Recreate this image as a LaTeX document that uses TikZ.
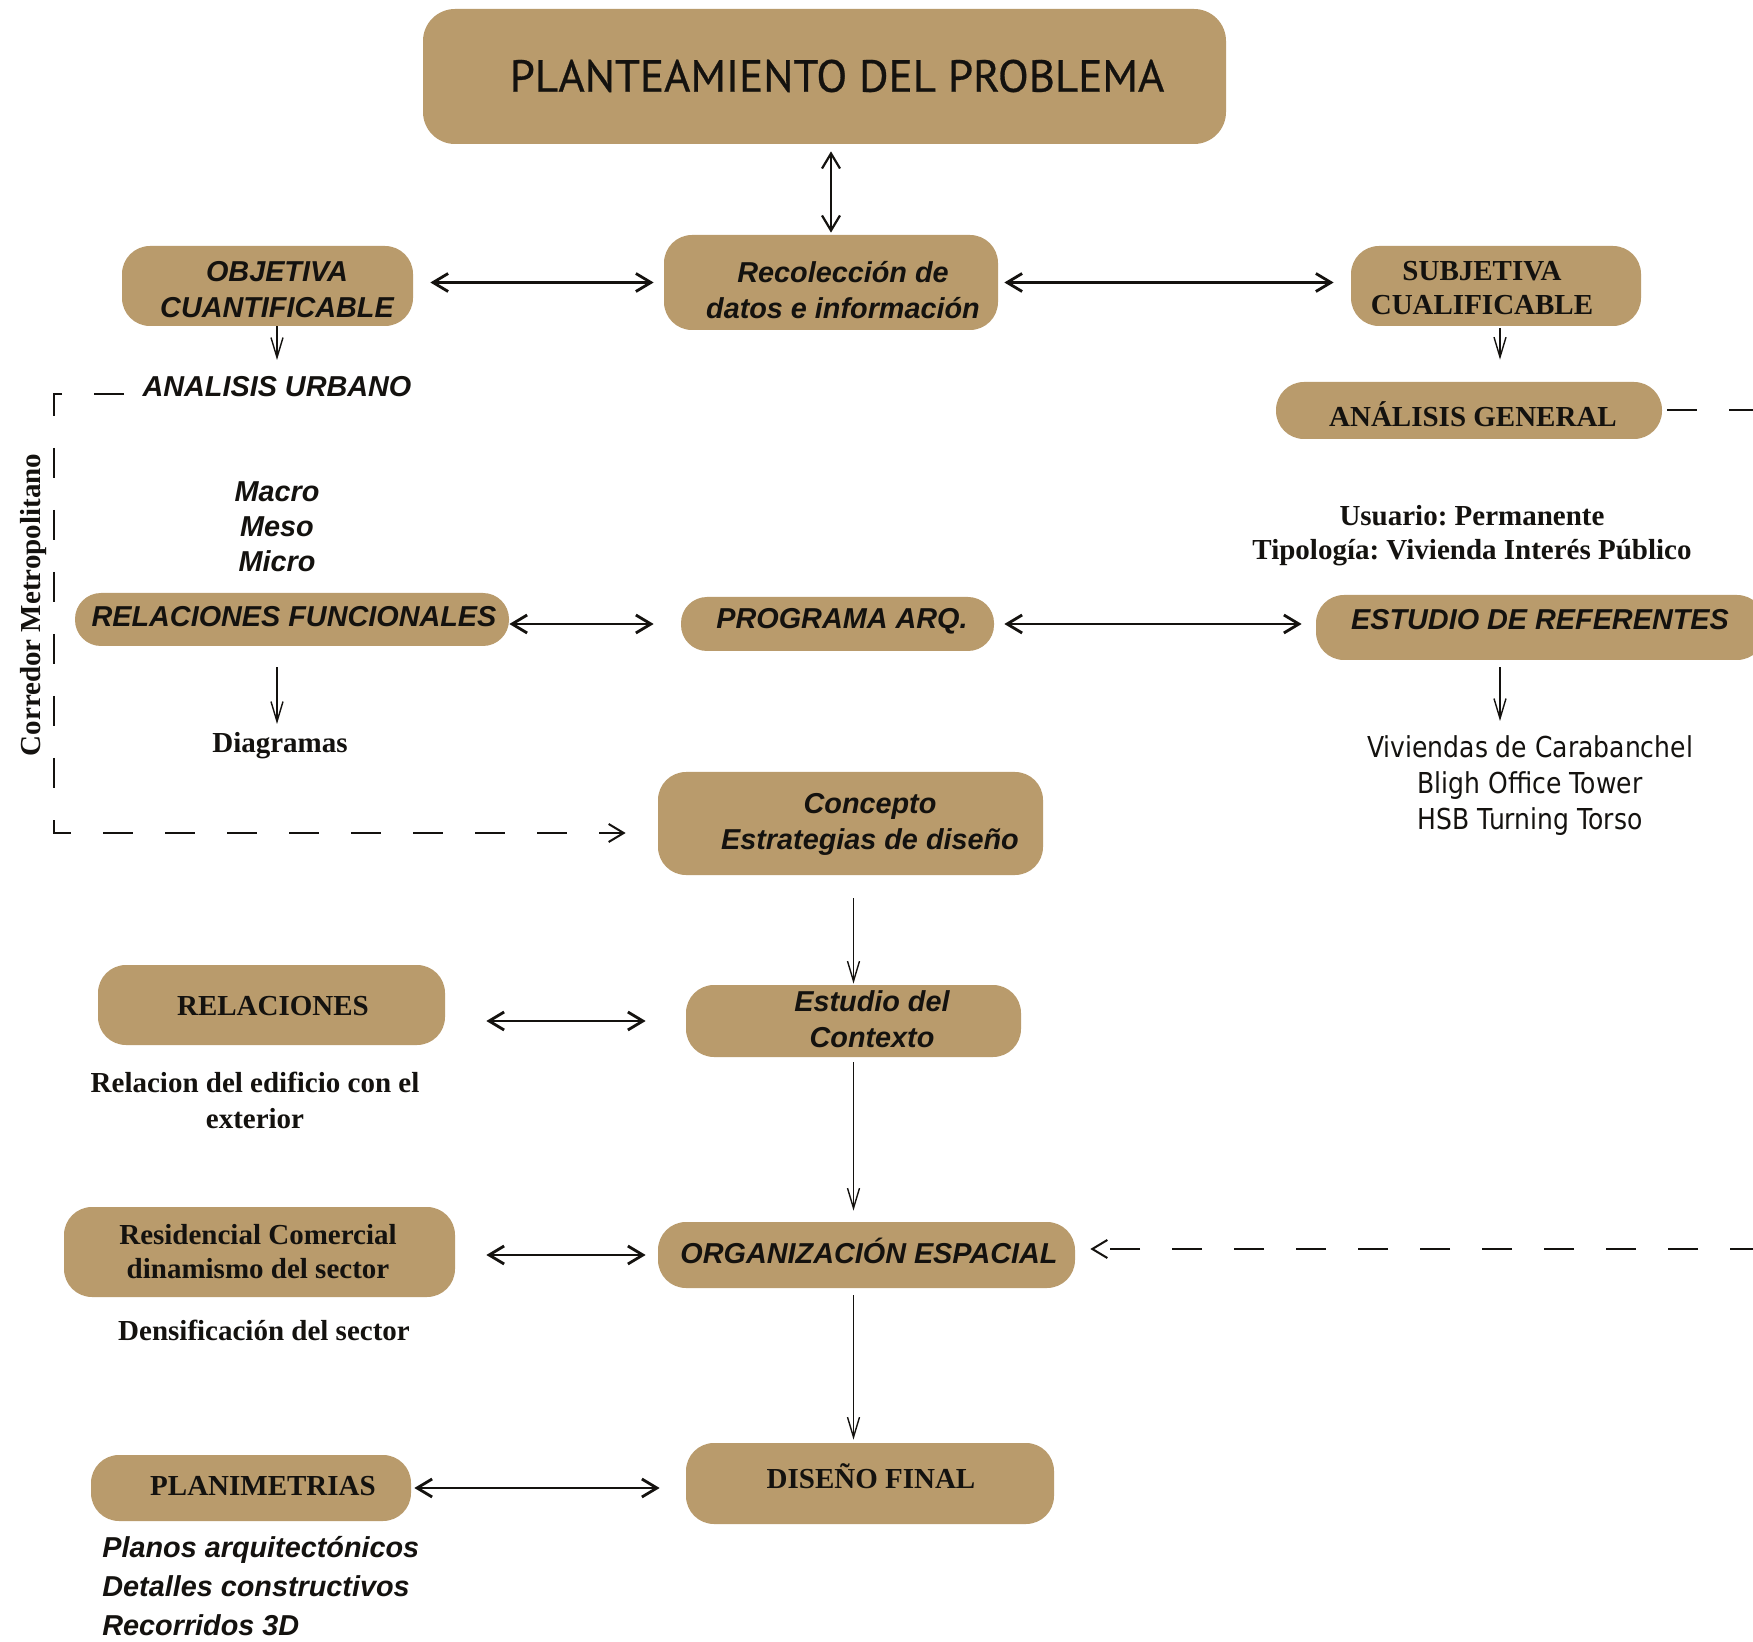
\documentclass[tikz,border=0pt]{standalone}
\usepackage{fontspec}
\setmainfont{Liberation Serif}
\newfontfamily\arialf{Liberation Sans}
\newfontfamily\titlef[FakeBold=0.6]{PT Sans}
\newfontfamily\tahf[FakeStretch=0.87]{DejaVu Sans}
\usetikzlibrary{arrows.meta}
\definecolor{boxtan}{RGB}{185,155,108}
\definecolor{ink}{RGB}{20,18,15}
\frenchspacing
\tikzset{
  box/.style={fill=boxtan, rounded corners=14pt, inner sep=0pt},
  sbi/.style={font=\arialf\bfseries\itshape\fontsize{14.4}{18}\selectfont, text=ink, align=center, inner sep=0pt},
  sb/.style={font=\bfseries\fontsize{14.5}{17}\selectfont, text=ink, align=center, inner sep=0pt},
  tah/.style={font=\tahf\fontsize{14.4}{18}\selectfont, text=ink, align=center, inner sep=0pt},
  titl/.style={font=\titlef\fontsize{22.5}{26}\selectfont, text=ink, inner sep=0pt},
  darr/.style={{Straight Barb[length=7.5pt,width=9pt]}-{Straight Barb[length=7.5pt,width=9pt]}, line width=1.4pt, draw=ink},
  sarr/.style={-{Straight Barb[length=10pt,width=6pt]}, line width=0.7pt, draw=ink},
  dsh/.style={line width=1pt, dash pattern=on 15pt off 16pt, draw=ink}
}
\begin{document}
\begin{tikzpicture}[x=0.5pt,y=-0.5pt]
\fill[white] (0,0) rectangle (1753,1642);
\useasboundingbox (0,0) rectangle (1753,1642);

% boxes
\node[box, minimum width=401.5pt, minimum height=67.5pt, rounded corners=16pt] (prob) at (824.5,76.5) {};
\node[box, minimum width=167pt, minimum height=47.5pt] (rec) at (831,282.5) {};
\node[box, minimum width=145.5pt, minimum height=40pt] (obj) at (267.5,286) {};
\node[box, minimum width=145pt, minimum height=40pt] (sub) at (1496,286) {};
\node[box, minimum width=193pt, minimum height=28.5pt] (gen) at (1469,410.5) {};
\node[box, minimum width=217pt, minimum height=26.5pt, rounded corners=13pt] (rf) at (292,619.5) {};
\node[box, minimum width=156.5pt, minimum height=27pt, rounded corners=13pt] (prog) at (837.5,624) {};
\node[box, minimum width=224.5pt, minimum height=32.5pt] (ref) at (1540.5,627.5) {};
\node[box, minimum width=192.5pt, minimum height=51.5pt] (conc) at (850.5,823.5) {};
\node[box, minimum width=167.5pt, minimum height=36pt] (est) at (853.5,1021) {};
\node[box, minimum width=173.5pt, minimum height=40pt] (rel) at (271.5,1005) {};
\node[box, minimum width=208.5pt, minimum height=33pt] (org) at (866.5,1255) {};
\node[box, minimum width=195.5pt, minimum height=45pt] (res) at (259.5,1252) {};
\node[box, minimum width=184pt, minimum height=40.5pt] (fin) at (870,1483.5) {};
\node[box, minimum width=160pt, minimum height=33pt] (plan) at (251,1488) {};

% box texts
\node[titl] (prob-t) at (837,76) {PLANTEAMIENTO DEL PROBLEMA};
\node[sbi] (rec-t) at (843,290) {Recolección de\\datos e información};
\node[sbi] (obj-t) at (277,290) {OBJETIVA\\CUANTIFICABLE};
\node[sb] (sub-t) at (1482,288) {SUBJETIVA\\CUALIFICABLE};
\node[sb] (gen-t) at (1473,414) {ANÁLISIS GENERAL};
\node[sbi] (rf-t) at (294,617) {RELACIONES FUNCIONALES};
\node[sbi] (prog-t) at (842,621) {PROGRAMA ARQ.};
\node[sbi] (ref-t) at (1540,620) {ESTUDIO DE REFERENTES};
\node[sbi] (conc-t) at (870,824) {Concepto\\Estrategias de diseño};
\node[sbi] (est-t) at (872,1019) {Estudio del\\Contexto};
\node[sb] (rel-t) at (273,1006) {RELACIONES};
\node[sbi] (org-t) at (869,1251) {ORGANIZACIÓN ESPACIAL};
\node[sb] (res-t) at (258,1252) {Residencial Comercial\\dinamismo del sector};
\node[sb] (fin-t) at (871,1476) {DISEÑO FINAL};
\node[sb] (plan-t) at (263,1486) {PLANIMETRIAS};

% free texts
\node[sbi] (urb) at (277,387) {ANALISIS URBANO};
\node[sbi, font=\arialf\bfseries\itshape\fontsize{14.4}{17.5}\selectfont] (macro) at (277,527) {Macro\\Meso\\Micro};
\node[sb] (usu) at (1472,536) {Usuario: Permanente\\Tipología: Vivienda Interés Público};
\node[tah] (viv) at (1530,786) {Viviendas de Carabanchel\\Bligh Office Tower\\HSB Turning Torso};
\node[sb] (diag) at (280,746) {Diagramas};
\node[sb, font=\bfseries\fontsize{14.5}{18}\selectfont] (reltxt) at (255,1100) {Relacion del edificio con el\\exterior};
\node[sb] (dens) at (264,1330) {Densificación del sector};
\node[sbi, align=left, anchor=west, font=\arialf\bfseries\itshape\fontsize{14.4}{19.5}\selectfont] (planos) at (102,1586) {Planos arquitectónicos\\Detalles constructivos\\Recorridos 3D};
\node[sb, rotate=90] (corr) at (34,605) {Corredor Metropolitano};

% coordinates
\coordinate (urbtip) at (277,360);
\coordinate (diagtip) at (277,724);
\coordinate (vivtip) at (1500,721);
\coordinate (redge) at (1760,410.5);
\coordinate (redge2) at (1760,1249);
\coordinate (lstart) at (124,394);
\coordinate (lc1) at (54,394);
\coordinate (lc2) at (54,833);

% connectors
\draw[darr, line width=1.1pt, shorten <=3.5pt, shorten >=1pt] (rec.north |- prob.south) -- (rec.north);
\draw[darr, shorten <=8.5pt, shorten >=5pt] (obj.east |- rec.west) -- (rec.west);
\draw[darr, shorten <=3pt, shorten >=8.5pt] (rec.east) -- (rec.east -| sub.west);
\draw[sarr] (obj.south -| urbtip) -- (urbtip);
\draw[sarr, shorten <=1pt, shorten >=11pt] (sub.south -| vivtip) -- (gen.north -| vivtip);
\draw[darr, shorten >=13.5pt] (rf.east |- prog.west) -- (prog.west);
\draw[darr, shorten <=5pt, shorten >=7pt] (prog.east) -- (prog.east -| ref.west);
\draw[sarr, shorten <=10.5pt] (rf.south -| diagtip) -- (diagtip);
\draw[sarr, shorten <=3.5pt] (ref.south -| vivtip) -- (vivtip);
\draw[sarr, shorten <=11.5pt, shorten >=0.5pt] (est.north |- conc.south) -- (est.north);
\draw[sarr, shorten <=2.5pt, shorten >=5.5pt] (est.south) -- (est.south |- org.north);
\draw[sarr, shorten <=3.5pt, shorten >=1.5pt] (org.south -| est.south) -- (fin.north -| est.south);
\draw[darr, shorten <=20.5pt, shorten >=20pt] (rel.east |- est.west) -- (est.west);
\draw[darr, shorten <=15.5pt, shorten >=6pt] (res.east |- org.west) -- (org.west);
\draw[darr, shorten <=1.5pt, shorten >=13pt] (plan.east) -- (plan.east -| fin.west);

% dashed
\draw[dsh, shorten <=2.5pt] (gen.east) -- (gen.east -| redge);
\draw[dsh, -{Straight Barb[length=7.5pt,width=9pt]}, shorten >=7.5pt] (redge2) -- (redge2 -| org.east);
\draw[dsh, -{Straight Barb[length=7.5pt,width=9pt]}, shorten >=16pt] (lstart) -- (lc1) -- (lc2) -- (lc2 -| conc.west);
\end{tikzpicture}
\end{document}
